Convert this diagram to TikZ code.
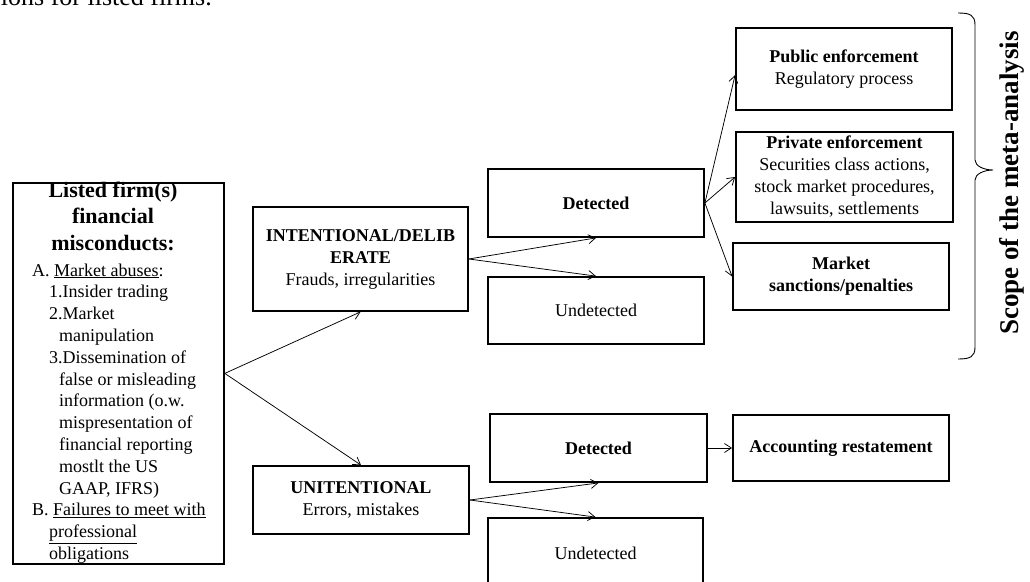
\documentclass[tikz,border=0pt]{standalone}
\usepackage{fontspec}
\setmainfont{Liberation Serif}
\usetikzlibrary{arrows.meta}
\newcommand{\bodyfs}{\fontsize{18}{22}\selectfont}
\begin{document}
\begin{tikzpicture}[x=1pt,y=1pt,
  box/.style={draw, line width=1.8pt, inner sep=0pt, align=center, font=\bodyfs},
  arr/.style={-{Straight Barb[length=7pt,width=9pt]}, line width=0.75pt},
  plain/.style={inner sep=0pt}]
\useasboundingbox (0,0) rectangle (1030,-581);
% caption fragment
\node[plain, anchor=base east, font=\fontsize{26}{30}\selectfont] (cap) at (212,-5) {ions for listed firms.};
% left box
\node[box, minimum width=211, minimum height=381, anchor=north west] (lf) at (12,-182) {};
\node[plain, anchor=base, align=center, font=\bfseries\fontsize{22}{26.5}\selectfont] (lft) at (113,-250) {Listed firm(s)\\financial\\misconducts:};
\node[plain, anchor=base west, align=left, font=\fontsize{18}{21.8}\selectfont] (lfl) at (32,-559.4)
{A.~\underline{Market abuses}:\\
\hspace*{17pt}1.Insider trading\\
\hspace*{17pt}2.Market\\
\hspace*{27pt}manipulation\\
\hspace*{17pt}3.Dissemination of\\
\hspace*{27pt}false or misleading\\
\hspace*{27pt}information (o.w.\\
\hspace*{27pt}mispresentation of\\
\hspace*{27pt}financial reporting\\
\hspace*{27pt}mostlt the US\\
\hspace*{27pt}GAAP, IFRS)\\
B.~\underline{Failures to meet with}\\
\hspace*{17pt}\underline{professional}\\
\hspace*{17pt}obligations};
% middle column
\node[box, minimum width=215, minimum height=104] (int) at (360.5,-259) {\textbf{INTENTIONAL/DELIB}\\\textbf{ERATE}\\Frauds, irregularities};
\node[box, minimum width=216, minimum height=68] (unint) at (361,-500) {\textbf{UNITENTIONAL}\\Errors, mistakes};
% detected / undetected
\node[box, minimum width=216, minimum height=68] (det1) at (596,-203) {\textbf{Detected}};
\node[box, minimum width=216, minimum height=67] (und1) at (596,-310.5) {Undetected};
\node[box, minimum width=217, minimum height=68] (det2) at (598.5,-448) {\textbf{Detected}};
\node[box, minimum width=215, minimum height=70] (und2) at (595.5,-553) {Undetected};
% right column
\node[box, minimum width=216, minimum height=82] (pub) at (844,-69) {\textbf{Public enforcement}\\Regulatory process};
\node[box, minimum width=217, minimum height=90] (priv) at (844.5,-177) {\textbf{Private enforcement}\\Securities class actions,\\stock market procedures,\\lawsuits, settlements};
\node[box, minimum width=216, minimum height=67] (mkt) at (841,-276.5) {\textbf{Market}\\\textbf{sanctions/penalties}};
\node[box, minimum width=216, minimum height=66] (acc) at (841,-448) {\textbf{Accounting restatement}};
% connectors
\draw[arr] (lf.east) -- (int.south);
\draw[arr] (lf.east) -- (unint.north);
\draw[arr] (int.east) -- (det1.south);
\draw[arr] (int.east) -- (und1.north);
\draw[arr] (det1.east) -- ([yshift=-6pt]pub.west);
\draw[arr] (det1.east) -- (priv.west);
\draw[arr] (det1.east) -- (mkt.west);
\draw[arr] (unint.east) -- (det2.south);
\draw[arr] (unint.east) -- (und2.north);
\draw[arr] (det2.east) -- (acc.west);
% brace
\draw[line width=0.9pt] (958,-13) .. controls (970,-13) and (975,-15) .. (975,-25) -- (975,-160)
  .. controls (975,-166) and (984,-170) .. (993,-170)
  .. controls (984,-170) and (975,-174) .. (975,-180) -- (975,-347)
  .. controls (975,-357) and (970,-359) .. (958,-359);
\node[plain, rotate=90, font=\bfseries\fontsize{27}{30}\selectfont] (scope) at (1012,-183) {Scope of the meta-analysis};
\end{tikzpicture}
\end{document}
